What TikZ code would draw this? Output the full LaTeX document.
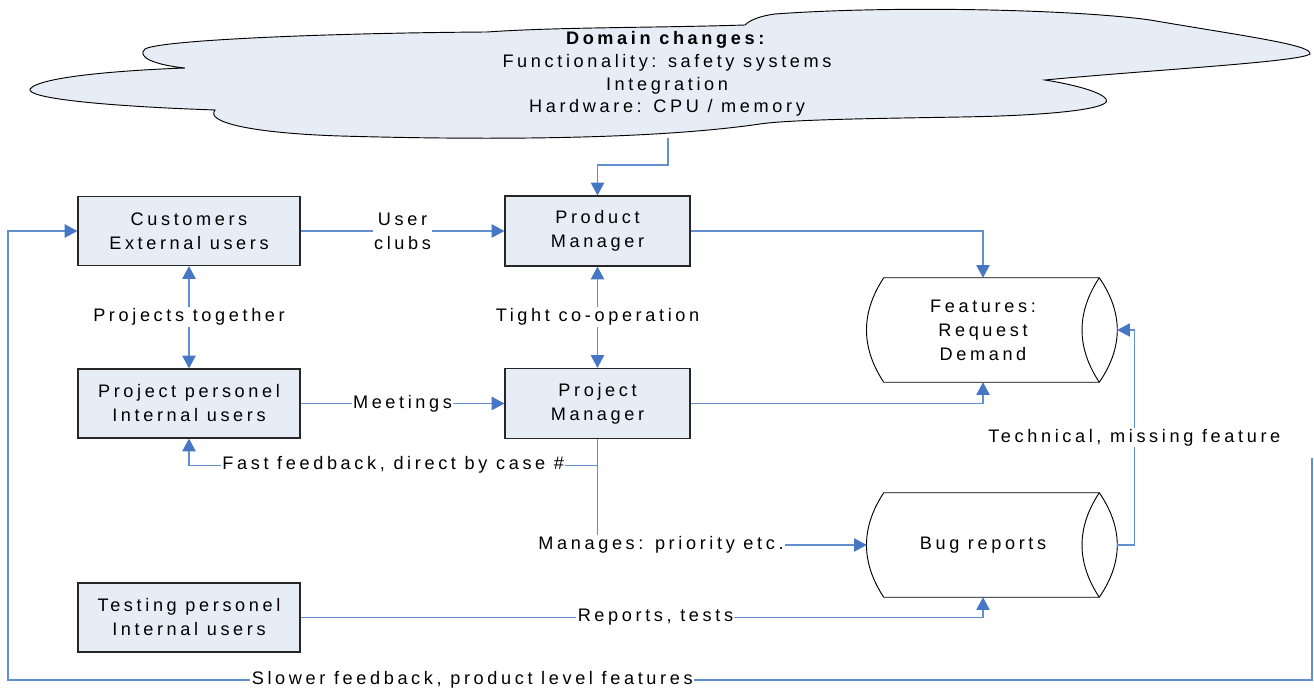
\documentclass[tikz,border=0pt]{standalone}
\usepackage{fontspec}
\setmainfont{Liberation Sans}[LetterSpace=20]
\usetikzlibrary{arrows.meta}
\definecolor{fillb}{RGB}{231,237,247}
\definecolor{lineb}{RGB}{98,143,206}
\definecolor{arrb}{RGB}{70,118,196}
\begin{document}
\begin{tikzpicture}[x=0.75pt,y=-0.75pt,
  every node/.style={font=\fontsize{13.6}{18}\selectfont, align=center},
  box/.style={draw=black!85, line width=0.9pt, fill=fillb, minimum width=166.5pt, minimum height=51.75pt, inner sep=0pt},
  mgr/.style={box, minimum width=138.75pt, minimum height=52.5pt},
  cylnode/.style={minimum width=174pt, minimum height=78pt, inner sep=0pt},
  cyl/.style={draw=black, line width=0.7pt},
  tip/.tip={Triangle[length=9.5pt,width=10pt,color=arrb]},
  conn/.style={draw=lineb, line width=0.8pt, -tip},
  both/.style={draw=lineb, line width=0.8pt, tip-tip},
  lab/.style={fill=white, inner xsep=1pt, inner ysep=1pt},
]
\useasboundingbox (0,0) rectangle (1314,691);

% cloud
\draw[draw=black, line width=0.7pt, fill=fillb]
  (185,68) .. controls (130,70) and (40,76) .. (30,89)
  .. controls (26,98) and (100,106) .. (215,110)
  .. controls (205,122) and (250,133) .. (340,136)
  .. controls (480,140) and (650,140) .. (760,124)
  .. controls (800,118) and (950,118) .. (1000,116)
  .. controls (1080,113) and (1112,106) .. (1106,99)
  .. controls (1100,91) and (1070,84) .. (1045,80)
  .. controls (1150,70) and (1300,62) .. (1310,54)
  .. controls (1312,45) and (1250,37) .. (1150,20)
  .. controls (1080,10) and (900,5) .. (775,14)
  .. controls (760,16) and (750,20) .. (745,25)
  .. controls (650,28) and (560,27) .. (487,32)
  .. controls (330,33) and (160,40) .. (145,49)
  .. controls (136,57) and (155,65) .. cycle;
\node (cloudtxt) at (667,74) [font=\fontsize{13.6}{17}\selectfont]
  {\textbf{Domain changes:}\\Functionality: safety systems\\Integration\\Hardware: CPU / memory};

% nodes
\node[box] (cust) at (189,231) {Customers\\External users};
\node[box] (ppers) at (189,403.5) {Project personel\\Internal users};
\node[box] (tpers) at (189,617.5) {Testing personel\\Internal users};
\node[mgr] (prodm) at (597.5,231) {Product\\Manager};
\node[mgr] (projm) at (597.5,403.5) {Project\\Manager};
\node[cylnode] (feat) at (983,330) {Features:\\Request\\Demand};
\node[cylnode] (bug) at (983,545) {Bug reports};

\foreach \n in {feat,bug}{
  \draw[cyl] ([xshift=12.75pt]\n.north west) -- (\n.north east)
     .. controls +(24,35) and +(24,-35) .. (\n.south east)
     -- ([xshift=12.75pt]\n.south west)
     .. controls +(-23,-35) and +(-23,35) .. cycle;
  \draw[cyl] (\n.north east) .. controls +(-23,35) and +(-23,-35) .. (\n.south east);
}

% connectors
\coordinate (cloudout) at (668,138);
\draw[conn] (cloudout) |- (prodm.north |- 0,165) -- (prodm.north);
\draw[conn] (cust) -- node[lab]{User\\clubs} (prodm);
\draw[conn] (prodm.east) -| (feat.north);
\draw[both] (prodm) -- node[lab]{Tight co-operation} (projm);
\draw[both] (cust) -- node[lab]{Projects together} (ppers);
\draw[conn] (ppers) -- node[lab]{Meetings} (projm);
\draw[conn] (projm.east) -| (feat.south);
\draw[conn] (projm.south) -- ++(0,26) -| node[pos=0.25, lab]{Fast feedback, direct by case \#} (ppers.south);
\draw[conn] (projm.south) |- node[pos=0.618, lab]{Manages: priority etc.} (bug.west);
\draw[conn] (tpers.east) -| node[pos=0.26, lab]{Reports, tests} (bug.south);
\draw[conn] ([xshift=13.5pt]bug.east) -- ++(17,0) |- node[pos=0.25, lab]{Technical, missing feature} ([xshift=13.5pt]feat.east);
\coordinate (sfstart) at (1312,458);
\draw[conn] (sfstart) -- (1312,680) -- node[pos=0.644, lab]{Slower feedback, product level features} (8,680) |- (cust.west);
\end{tikzpicture}
\end{document}
